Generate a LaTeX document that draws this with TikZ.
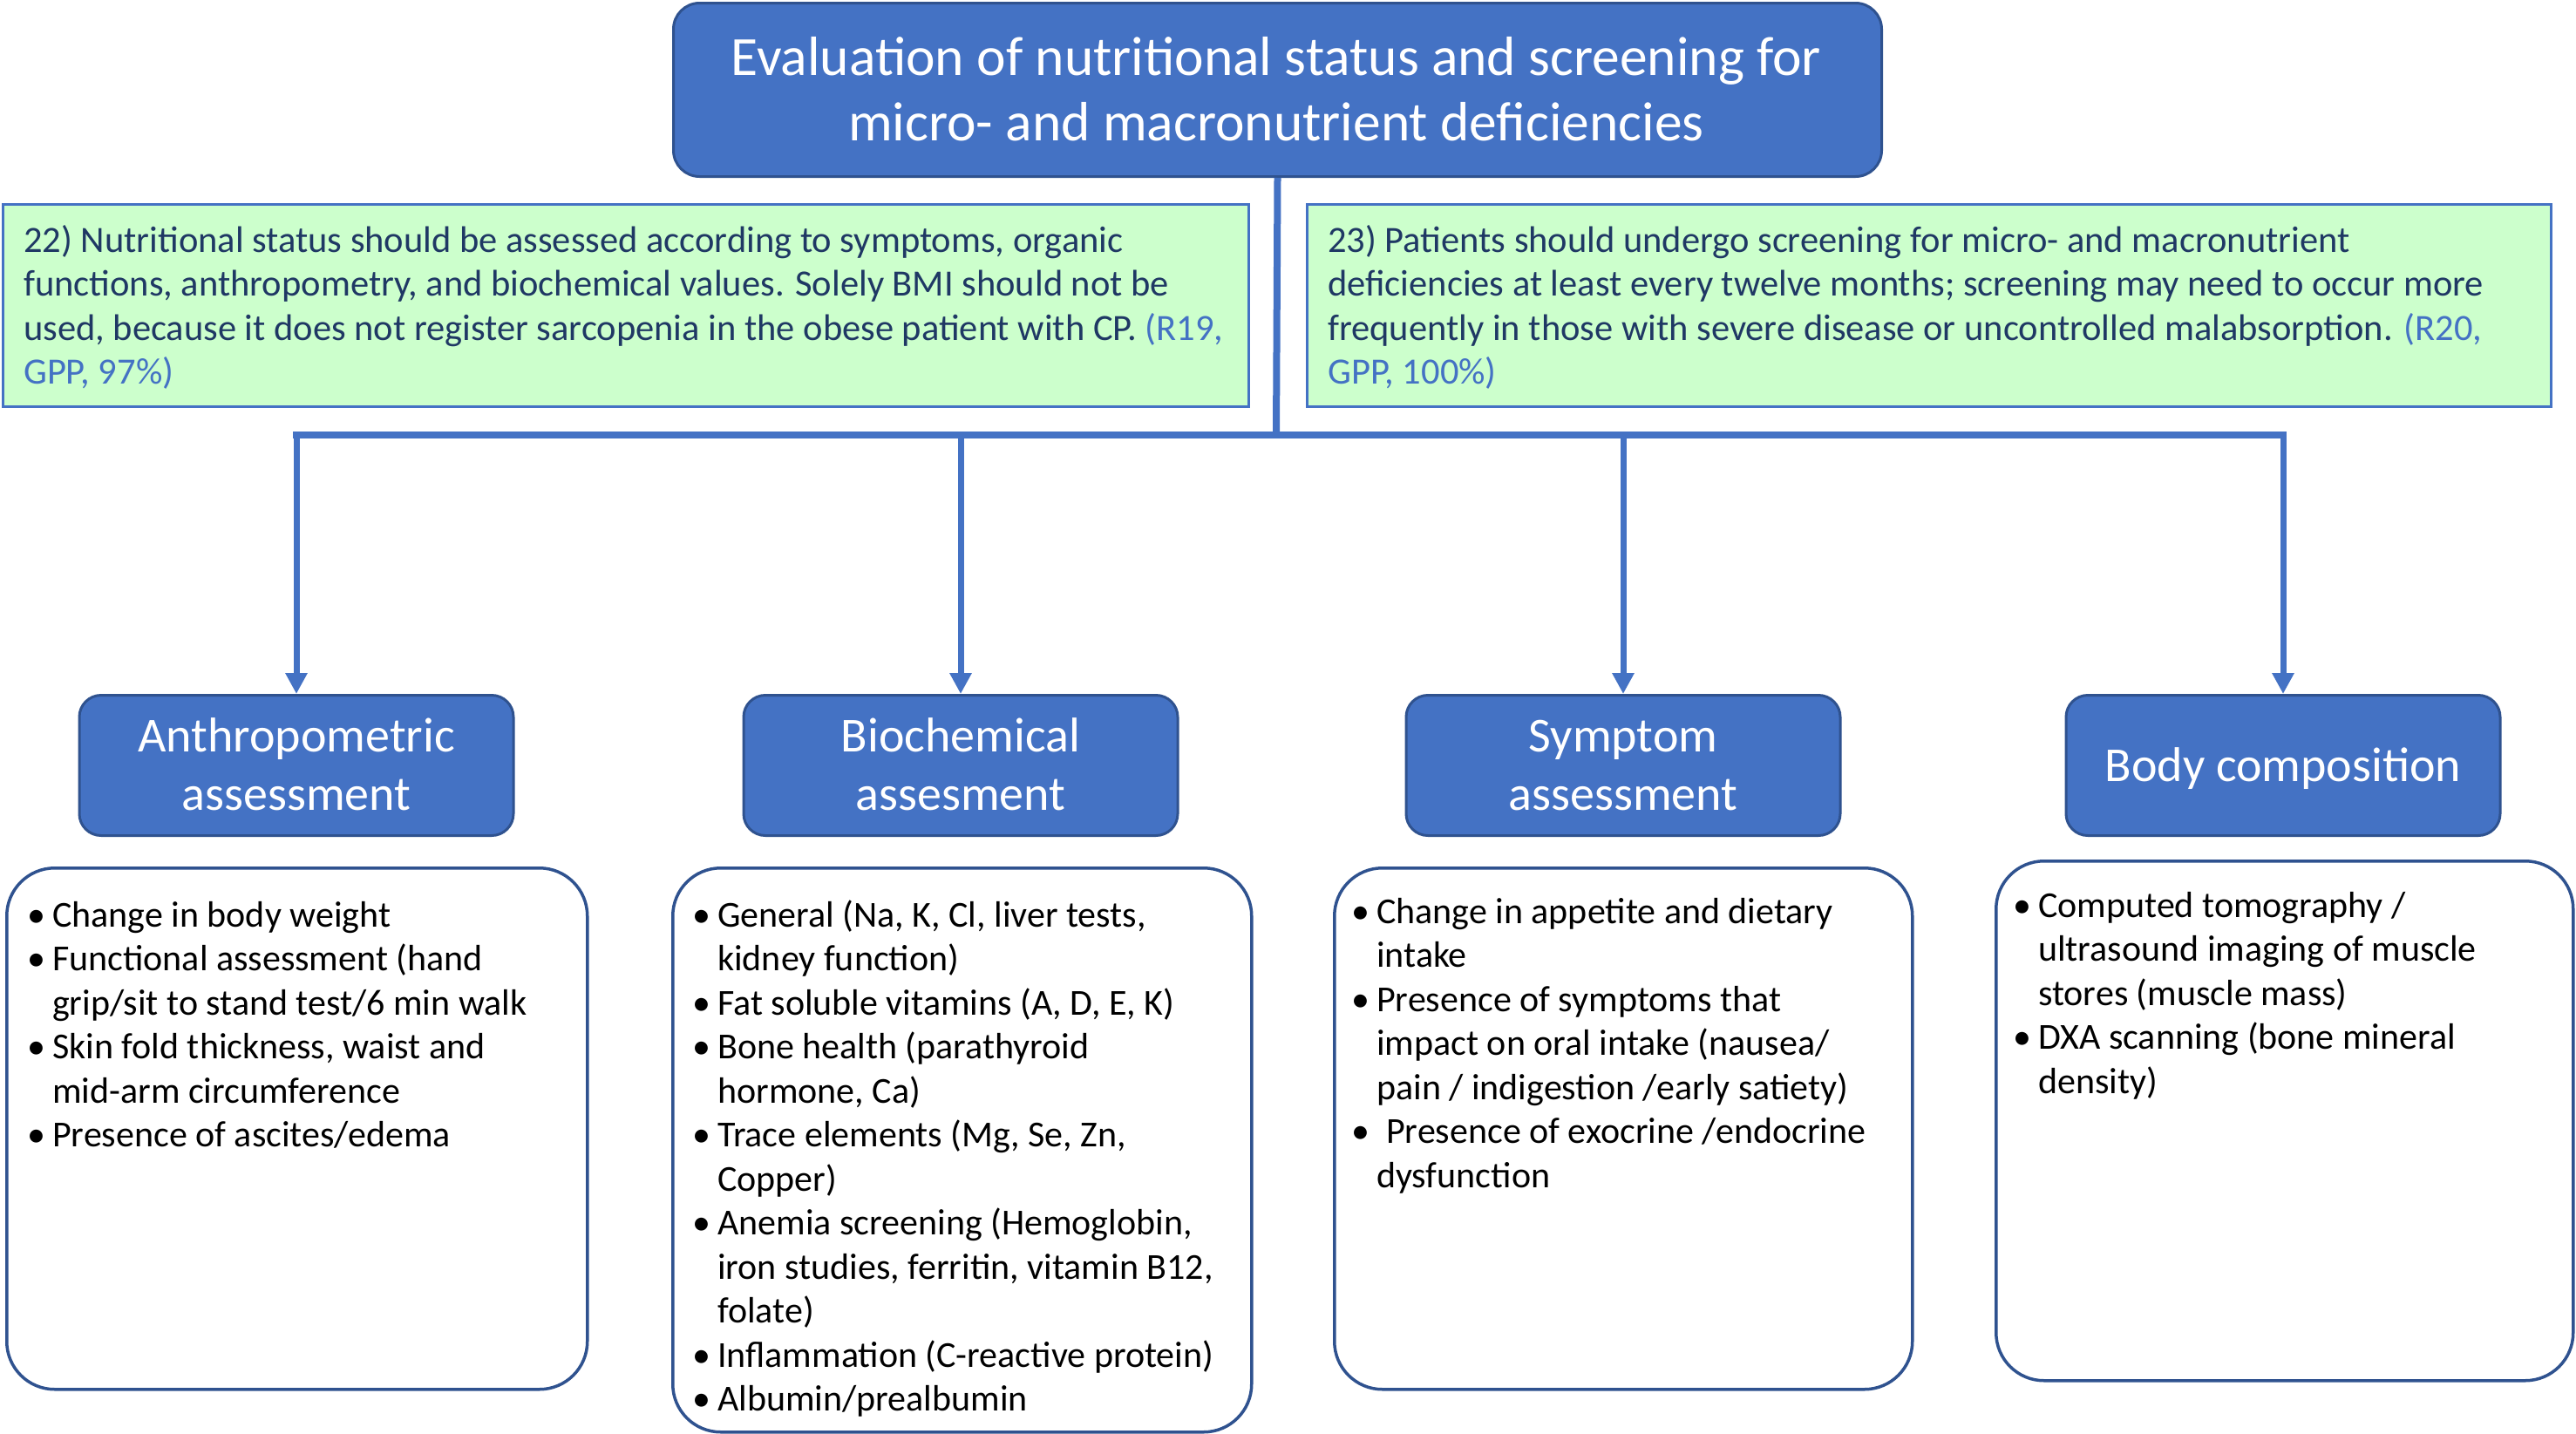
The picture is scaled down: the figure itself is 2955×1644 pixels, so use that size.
\documentclass[tikz,border=0pt]{standalone}
\usepackage{fontspec}
\setmainfont{Carlito}
\usetikzlibrary{arrows.meta}
\definecolor{blueF}{HTML}{4472C4}
\definecolor{blueD}{HTML}{2F528F}
\definecolor{greenF}{HTML}{CCFFCC}
\definecolor{navy}{HTML}{1F3864}
\newcommand{\bl}{\makebox[29pt][l]{•}}
\newcommand{\cl}{\makebox[29pt][l]{}}
\newcommand{\fst}[1]{\rule{0pt}{#1}}
\tikzset{
  titlebox/.style={draw=blueD, line width=3pt, fill=blueF, rounded corners=30pt, inner sep=0pt, anchor=north west},
  headbox/.style={draw=blueD, line width=3pt, fill=blueF, rounded corners=25pt, inner sep=0pt, minimum width=498pt, minimum height=161pt, anchor=north},
  greenbox/.style={draw=blueF, line width=2.5pt, fill=greenF, inner sep=0pt, minimum height=232pt, anchor=north west},
  listbox/.style={draw=blueD, line width=3.5pt, fill=white, rounded corners=55pt, inner sep=0pt, anchor=north west},
  titletext/.style={inner sep=0pt, align=center, text=white, font=\fontsize{63.5pt}{75pt}\selectfont, anchor=north},
  headtext/.style={inner sep=0pt, align=center, text=white, font=\fontsize{56pt}{67pt}\selectfont, anchor=north},
  greentext/.style={inner sep=0pt, align=left, text=navy, font=\fontsize{42.5pt}{50.5pt}\selectfont, anchor=north west},
  listtext/.style={inner sep=0pt, align=left, text=black, font=\fontsize{42pt}{50.5pt}\selectfont, anchor=north west},
  trunk/.style={draw=blueF, line width=8pt},
  barline/.style={draw=blueF, line width=8pt, line cap=rect},
  branch/.style={draw=blueF, line width=7pt, -{Triangle[length=24pt,width=24pt]}},
}
\begin{document}
\begin{tikzpicture}[x=1pt,y=-1pt]
\useasboundingbox (0,0) rectangle (2955,1644);
\fill[white] (0,0) rectangle (2955,1644);

% title
\node[titlebox, minimum width=1386pt, minimum height=199pt] (title) at (771,2) {};
\node[titletext] (titleT) at (1464,31) {\fst{55pt}Evaluation of nutritional status and screening for\\micro- and macronutrient deficiencies};

% green recommendation boxes
\node[greenbox, minimum width=1429pt] (gL) at (2,233) {};
\node[greenbox, minimum width=1427pt] (gR) at (1498,233) {};
\node[greentext] (gLT) at (27,249) {\fst{40pt}22) Nutritional status should be assessed according to symptoms, organic\\functions, anthropometry, and biochemical values. Solely BMI should not be\\used, because it does not register sarcopenia in the obese patient with CP. \textcolor{blueF}{(R19,}\\\textcolor{blueF}{GPP, 97\%)}};
\node[greentext] (gRT) at (1523,249) {\fst{40pt}23) Patients should undergo screening for micro- and macronutrient\\deficiencies at least every twelve months; screening may need to occur more\\frequently in those with severe disease or uncontrolled malabsorption. \textcolor{blueF}{(R20,}\\\textcolor{blueF}{GPP, 100\%)}};

% header boxes
\node[headbox] (hA) at (340,796) {};
\node[headbox] (hB) at (1102,796) {};
\node[headbox] (hS) at (1862,796) {};
\node[headbox] (hC) at (2619,796) {};
\node[headtext] (hAT) at (340,812) {\fst{50pt}Anthropometric\\assessment};
\node[headtext] (hBT) at (1102,812) {\fst{50pt}Biochemical\\assesment};
\node[headtext] (hST) at (1862,812) {\fst{50pt}Symptom\\assessment};
\node[headtext] (hCT) at (2619,846) {\fst{50pt}Body composition};

% list boxes
\node[listbox, minimum width=666pt, minimum height=598pt] (lA) at (6,994) {};
\node[listbox, minimum width=664pt, minimum height=647pt] (lB) at (770,994) {};
\node[listbox, minimum width=663pt, minimum height=598pt] (lS) at (1529,994) {};
\node[listbox, minimum width=662pt, minimum height=596pt] (lC) at (2288,986) {};

\node[listtext] (lAT) at (31,1023) {\fst{40pt}\bl Change in body weight\\
\bl Functional assessment (hand\\
\cl grip/sit to stand test/6 min walk\\
\bl Skin fold thickness, waist and\\
\cl mid-arm circumference\\
\bl Presence of ascites/edema};

\node[listtext] (lBT) at (794,1023) {\fst{40pt}\bl General (Na, K, Cl, liver tests,\\
\cl kidney function)\\
\bl Fat soluble vitamins (A, D, E, K)\\
\bl Bone health (parathyroid\\
\cl hormone, Ca)\\
\bl Trace elements (Mg, Se, Zn,\\
\cl Copper)\\
\bl Anemia screening (Hemoglobin,\\
\cl iron studies, ferritin, vitamin B12,\\
\cl folate)\\
\bl Inflammation (C-reactive protein)\\
\bl Albumin/prealbumin};

\node[listtext] (lST) at (1550,1019) {\fst{40pt}\bl Change in appetite and dietary\\
\cl intake\\
\bl Presence of symptoms that\\
\cl impact on oral intake (nausea/\\
\cl pain / indigestion /early satiety)\\
\bl\hspace*{11pt}Presence of exocrine /endocrine\\
\cl dysfunction};

\node[listtext] (lCT) at (2309,1012) {\fst{40pt}\bl Computed tomography /\\
\cl ultrasound imaging of muscle\\
\cl stores (muscle mass)\\
\bl DXA scanning (bone mineral\\
\cl density)};

% connectors
\coordinate (j) at (1464,499);
\coordinate (jA) at (hA.north |- j);
\coordinate (jB) at (hB.north |- j);
\coordinate (jS) at (hS.north |- j);
\coordinate (jC) at (hC.north |- j);
\draw[trunk] (title.south) -- (j);
\draw[barline] (jA) -- (jC);
\draw[branch] (jA) -- (hA.north);
\draw[branch] (jB) -- (hB.north);
\draw[branch] (jS) -- (hS.north);
\draw[branch] (jC) -- (hC.north);
\end{tikzpicture}
\end{document}
